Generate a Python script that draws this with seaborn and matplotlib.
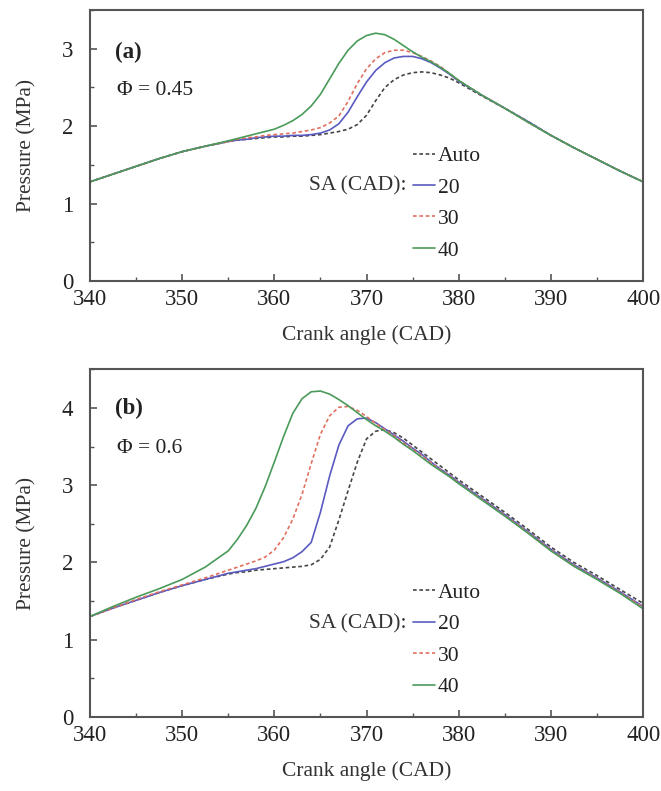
import matplotlib
matplotlib.use("Agg")
import matplotlib.pyplot as plt
import seaborn as sns
import pandas as pd
from matplotlib.ticker import MultipleLocator

# ---------------- data ----------------
crank = [340, 342.5, 345, 347.5, 350, 352.5, 355, 356, 357, 358, 359, 360, 361, 362,
         363, 364, 365, 366, 367, 368, 369, 370, 371, 372, 373, 374, 375, 376, 377,
         378, 379, 380, 382.5, 385, 387.5, 390, 392.5, 395, 397.5, 400]

# Panel (a): phi = 0.45
a_auto = [1.28, 1.38, 1.48, 1.58, 1.67, 1.74, 1.80, 1.82, 1.83, 1.84, 1.85, 1.86, 1.86, 1.87,
          1.87, 1.88, 1.89, 1.91, 1.93, 1.96, 2.02, 2.14, 2.33, 2.50, 2.60, 2.66, 2.69, 2.70, 2.69,
          2.66, 2.62, 2.56, 2.39, 2.23, 2.06, 1.88, 1.72, 1.57, 1.42, 1.28]
a_sa20 = [1.28, 1.38, 1.48, 1.58, 1.67, 1.74, 1.80, 1.82, 1.83, 1.85, 1.86, 1.87, 1.87, 1.88,
          1.88, 1.89, 1.91, 1.95, 2.03, 2.18, 2.38, 2.57, 2.72, 2.82, 2.88, 2.90, 2.90, 2.87, 2.82,
          2.75, 2.67, 2.58, 2.40, 2.23, 2.06, 1.88, 1.72, 1.57, 1.42, 1.28]
a_sa30 = [1.28, 1.38, 1.48, 1.58, 1.67, 1.74, 1.80, 1.83, 1.85, 1.86, 1.88, 1.89, 1.90, 1.91,
          1.93, 1.95, 1.98, 2.04, 2.13, 2.32, 2.55, 2.74, 2.87, 2.95, 2.98, 2.98, 2.95, 2.90, 2.84,
          2.77, 2.68, 2.59, 2.40, 2.23, 2.05, 1.88, 1.72, 1.57, 1.42, 1.28]
a_sa40 = [1.28, 1.38, 1.48, 1.58, 1.67, 1.74, 1.81, 1.84, 1.87, 1.90, 1.93, 1.96, 2.01, 2.07,
          2.15, 2.26, 2.41, 2.61, 2.81, 2.98, 3.10, 3.17, 3.20, 3.18, 3.12, 3.04, 2.96, 2.89, 2.83,
          2.76, 2.68, 2.59, 2.40, 2.23, 2.05, 1.88, 1.72, 1.57, 1.42, 1.28]

# Panel (b): phi = 0.6
b_auto = [1.30, 1.41, 1.51, 1.61, 1.70, 1.78, 1.85, 1.87, 1.88, 1.90, 1.91, 1.92, 1.93, 1.94,
          1.95, 1.97, 2.04, 2.20, 2.55, 2.93, 3.30, 3.60, 3.70, 3.72, 3.68, 3.61, 3.52, 3.43, 3.34,
          3.25, 3.16, 3.07, 2.86, 2.65, 2.43, 2.20, 2.00, 1.83, 1.65, 1.47]
b_sa20 = [1.30, 1.41, 1.51, 1.61, 1.70, 1.78, 1.86, 1.88, 1.90, 1.92, 1.95, 1.98, 2.01, 2.06,
          2.14, 2.26, 2.65, 3.12, 3.52, 3.77, 3.86, 3.87, 3.81, 3.73, 3.65, 3.57, 3.48, 3.40, 3.30,
          3.21, 3.13, 3.04, 2.83, 2.62, 2.40, 2.17, 1.97, 1.80, 1.62, 1.43]
b_sa30 = [1.30, 1.41, 1.52, 1.62, 1.71, 1.80, 1.90, 1.94, 1.98, 2.02, 2.07, 2.16, 2.32, 2.56,
          2.88, 3.28, 3.66, 3.90, 4.01, 4.02, 3.97, 3.89, 3.80, 3.72, 3.64, 3.55, 3.47, 3.38, 3.29,
          3.20, 3.12, 3.03, 2.82, 2.61, 2.39, 2.16, 1.96, 1.79, 1.61, 1.42]
b_sa40 = [1.30, 1.43, 1.55, 1.66, 1.78, 1.94, 2.15, 2.30, 2.48, 2.70, 2.98, 3.30, 3.63, 3.93,
          4.12, 4.21, 4.22, 4.18, 4.11, 4.03, 3.94, 3.85, 3.77, 3.70, 3.62, 3.53, 3.45, 3.36, 3.27,
          3.19, 3.11, 3.02, 2.81, 2.60, 2.38, 2.15, 1.95, 1.78, 1.60, 1.40]

series_labels = ["Auto", "20", "30", "40"]
panel_tags = ["(a)", "(b)"]
phi_labels = ["\u03A6 = 0.45", "\u03A6 = 0.6"]
x_label = "Crank angle (CAD)"
y_label = "Pressure (MPa)"
sa_label = "SA (CAD):"
x_ticks = [340, 350, 360, 370, 380, 390, 400]

# ---------------- style ----------------
sns.set_style("ticks")
plt.rcParams["font.family"] = ["Liberation Serif", "DejaVu Serif"]

colors = ["#454545", "#5a5ac0", "#e07060", "#4a9a5a"]
dashes = [(0, (2.2, 1.6)), "-", (0, (2.2, 1.6)), "-"]
spine_col = "#555555"

fig = plt.figure(figsize=(6.61, 7.91), dpi=100)
ax_a = fig.add_axes([0.136, 0.6448, 0.837, 0.3426])
ax_b = fig.add_axes([0.136, 0.0936, 0.837, 0.4394])

panels = [
    (ax_a, [a_auto, a_sa20, a_sa30, a_sa40], 3.5, 0.498, 0.352, 2.95, 2.46),
    (ax_b, [b_auto, b_sa20, b_sa30, b_sa40], 4.5, 0.386, 0.269, 4.0, 3.48),
]

for i, (ax, ys, ytop, leg_top, sa_y, tag_y, phi_y) in enumerate(panels):
    for lab, y, c, ls in zip(series_labels, ys, colors, dashes):
        df = pd.DataFrame({"x": crank, "y": y})
        sns.lineplot(data=df, x="x", y="y", ax=ax, color=c, linewidth=1.2,
                     label=lab, linestyle=ls)
    ax.set_xlim(340, 400)
    ax.set_ylim(0, ytop)
    ax.set_xticks(x_ticks)
    ax.xaxis.set_minor_locator(MultipleLocator(5))
    ax.yaxis.set_major_locator(MultipleLocator(1))
    ax.yaxis.set_minor_locator(MultipleLocator(0.5))
    ax.tick_params(axis="both", which="both", direction="in", colors=spine_col,
                   labelcolor="#222222", labelsize=16.5)
    ax.tick_params(axis="both", which="major", length=5, width=1.2)
    ax.tick_params(axis="both", which="minor", length=3, width=1.0)
    ax.tick_params(axis="x", pad=6)
    ax.tick_params(axis="y", pad=12)
    for sp in ax.spines.values():
        sp.set_visible(True)
        sp.set_color(spine_col)
        sp.set_linewidth(1.5)
    ax.set_xlabel(x_label, fontsize=15.5, color="#333333", labelpad=11)
    ax.set_ylabel(y_label, fontsize=15.5, color="#333333", labelpad=18)
    ax.text(342.7, tag_y, panel_tags[i],
            fontsize=16.5, fontweight="bold", va="center", ha="left", color="#222222")
    ax.text(342.9, phi_y, phi_labels[i],
            fontsize=15.5, va="center", ha="left", color="#222222")
    leg = ax.legend(loc="upper left", bbox_to_anchor=(0.584, leg_top), frameon=False,
                    fontsize=15.5, handlelength=1.0, handletextpad=0.15,
                    labelspacing=0.53, borderpad=0, borderaxespad=0)
    for t in leg.get_texts():
        t.set_color("#222222")
    ax.text(0.573, sa_y, sa_label, transform=ax.transAxes, fontsize=15.5,
            ha="right", va="center", color="#333333")

fig.savefig("out.png", dpi=100)
